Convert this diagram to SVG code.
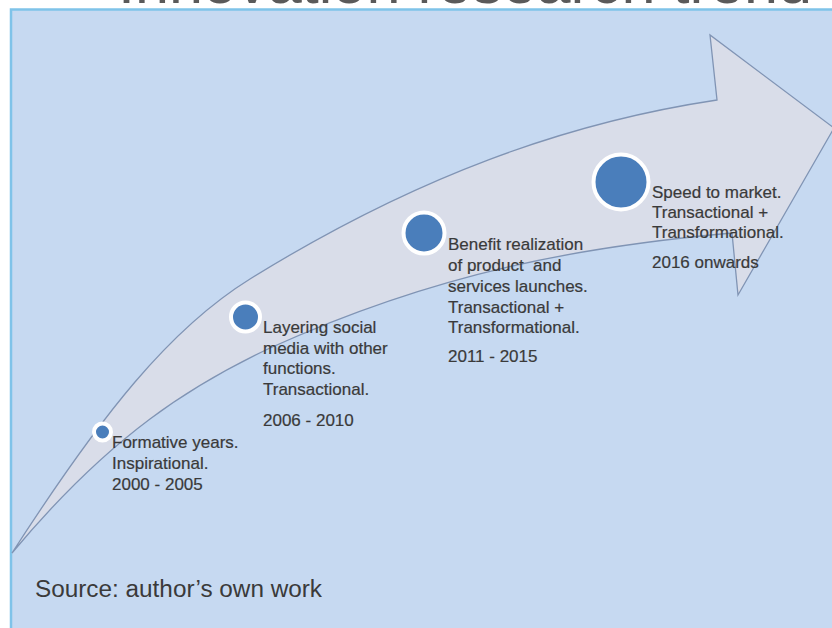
<svg xmlns="http://www.w3.org/2000/svg" width="832" height="628" viewBox="0 0 832 628">
  <style>
    .title { font-family: "Liberation Sans", Arial, sans-serif; font-size: 60px; fill: #5a5a5a; }
    .label { font-family: "Liberation Sans", Arial, sans-serif; font-size: 17px; fill: #3a3a3a; stroke: #3a3a3a; stroke-width: 0.2; }
    .source { font-family: "Liberation Sans", Arial, sans-serif; font-size: 23px; fill: #3a3a3a; }
    .dot { fill: #4a7ebb; stroke: #ffffff; stroke-width: 4; }
    .trend { fill: #d9dde9; stroke: #8094b4; stroke-width: 1.3; stroke-linejoin: miter; }
  </style>

  <!-- page background -->
  <rect x="0" y="0" width="832" height="628" fill="#ffffff"/>

  <!-- heading, clipped by the top of the slide -->
  <text class="title" x="118" y="3" textLength="694" lengthAdjust="spacingAndGlyphs">Innovation research trend</text>

  <!-- slide panel -->
  <g id="panel">
    <rect x="11" y="9.5" width="840" height="640" fill="#c6d9f1" stroke="#7fc3e9" stroke-width="2.5"/>
  </g>

  <!-- curved trend arrow -->
  <g id="trend-arrow">
    <path class="trend" d="M12,553
      C102,413.5 170,328.6 250,279
      C415,176.7 567,122.5 717,100
      L710,35 L834,128 L738,295 L732,233
      C582,246.5 440,271.5 270,348
      C194,384 112,433 12,553 Z"/>
  </g>

  <!-- milestones -->
  <g id="stage-2000">
    <circle class="dot" cx="102.5" cy="432" r="8.5"/>
    <text class="label" x="112" y="448">Formative years.</text>
    <text class="label" x="112" y="469">Inspirational.</text>
    <text class="label" x="112" y="490">2000 - 2005</text>
  </g>

  <g id="stage-2006">
    <circle class="dot" cx="245.5" cy="317" r="14.5"/>
    <text class="label" x="263" y="333">Layering social</text>
    <text class="label" x="263" y="354">media with other</text>
    <text class="label" x="263" y="374">functions.</text>
    <text class="label" x="263" y="395">Transactional.</text>
    <text class="label" x="263" y="426">2006 - 2010</text>
  </g>

  <g id="stage-2011">
    <circle class="dot" cx="424" cy="233" r="20.5"/>
    <text class="label" x="448" y="250">Benefit realization</text>
    <text class="label" x="448" y="271" xml:space="preserve">of product  and</text>
    <text class="label" x="448" y="292">services launches.</text>
    <text class="label" x="448" y="313">Transactional +</text>
    <text class="label" x="448" y="333">Transformational.</text>
    <text class="label" x="448" y="362">2011 - 2015</text>
  </g>

  <g id="stage-2016">
    <circle class="dot" cx="621" cy="182" r="27.5"/>
    <text class="label" x="652" y="198">Speed to market.</text>
    <text class="label" x="652" y="218">Transactional +</text>
    <text class="label" x="652" y="238">Transformational.</text>
    <text class="label" x="652" y="268">2016 onwards</text>
  </g>

  <!-- source note -->
  <text class="source" x="35" y="597" textLength="287" lengthAdjust="spacingAndGlyphs">Source: author’s own work</text>
</svg>
